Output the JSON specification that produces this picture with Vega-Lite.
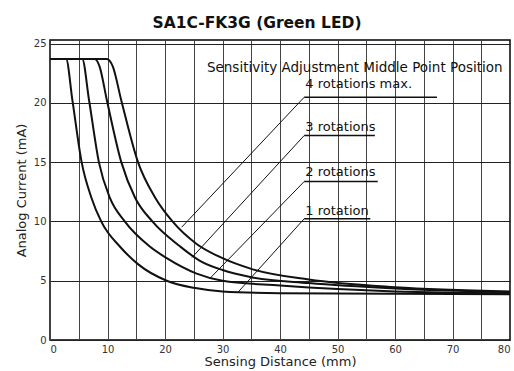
{
  "$schema": "https://vega.github.io/schema/vega-lite/v6.json",
  "width": 460,
  "height": 300,
  "autosize": "none",
  "padding": {"left": 50, "top": 40, "right": 4, "bottom": 31},
  "background": "white",
  "config": {
    "font": "DejaVu Sans",
    "view": {"stroke": "black", "strokeWidth": 1.5},
    "axis": {"labelColor": "#333", "labelFontSize": 10, "titleColor": "#222", "titleFontSize": 13, "titleFontWeight": "normal"}
  },
  "title": {"text": "SA1C-FK3G (Green LED)", "fontSize": 15.5, "fontWeight": "bold", "dx": -23, "offset": 7, "color": "#111"},
  "datasets": {
    "curves": [
      {"c": "1", "x": 0, "y": 23.7}, {"c": "1", "x": 2.8, "y": 23.7}, {"c": "1", "x": 3.9, "y": 20.2}, {"c": "1", "x": 5.5, "y": 15.0}, {"c": "1", "x": 7.2, "y": 12.0}, {"c": "1", "x": 8.9, "y": 10.0}, {"c": "1", "x": 12.3, "y": 7.8}, {"c": "1", "x": 15.3, "y": 6.4}, {"c": "1", "x": 20.3, "y": 5.0}, {"c": "1", "x": 25, "y": 4.4}, {"c": "1", "x": 30, "y": 4.1}, {"c": "1", "x": 40, "y": 3.95}, {"c": "1", "x": 60, "y": 3.9}, {"c": "1", "x": 80, "y": 3.85},
      {"c": "2", "x": 0, "y": 23.7}, {"c": "2", "x": 5.6, "y": 23.7}, {"c": "2", "x": 6.8, "y": 20.2}, {"c": "2", "x": 8.5, "y": 15.0}, {"c": "2", "x": 10.4, "y": 12.0}, {"c": "2", "x": 13.0, "y": 10.0}, {"c": "2", "x": 17.3, "y": 7.9}, {"c": "2", "x": 20.3, "y": 6.9}, {"c": "2", "x": 25.5, "y": 5.6}, {"c": "2", "x": 30, "y": 5.0}, {"c": "2", "x": 40, "y": 4.6}, {"c": "2", "x": 50, "y": 4.3}, {"c": "2", "x": 60, "y": 4.1}, {"c": "2", "x": 80, "y": 3.95},
      {"c": "3", "x": 0, "y": 23.7}, {"c": "3", "x": 7.8, "y": 23.7}, {"c": "3", "x": 8.6, "y": 23.1}, {"c": "3", "x": 9.9, "y": 20.2}, {"c": "3", "x": 12.4, "y": 15.0}, {"c": "3", "x": 14.8, "y": 12.0}, {"c": "3", "x": 17.8, "y": 10.0}, {"c": "3", "x": 22.6, "y": 7.9}, {"c": "3", "x": 26, "y": 6.7}, {"c": "3", "x": 30, "y": 5.9}, {"c": "3", "x": 35, "y": 5.3}, {"c": "3", "x": 45, "y": 4.8}, {"c": "3", "x": 60, "y": 4.35}, {"c": "3", "x": 80, "y": 4.05},
      {"c": "4", "x": 0, "y": 23.7}, {"c": "4", "x": 9.9, "y": 23.7}, {"c": "4", "x": 10.9, "y": 23.1}, {"c": "4", "x": 12.4, "y": 20.2}, {"c": "4", "x": 15.3, "y": 15.0}, {"c": "4", "x": 18.3, "y": 12.0}, {"c": "4", "x": 21.3, "y": 10.0}, {"c": "4", "x": 25.5, "y": 8.1}, {"c": "4", "x": 30, "y": 6.9}, {"c": "4", "x": 35, "y": 6.0}, {"c": "4", "x": 45, "y": 5.1}, {"c": "4", "x": 60, "y": 4.45}, {"c": "4", "x": 80, "y": 4.1}
    ],
    "underlines": [
      {"x": 44.2, "x2": 67.3, "y": 20.47},
      {"x": 44.2, "x2": 56.5, "y": 17.24},
      {"x": 44.2, "x2": 57.0, "y": 13.36},
      {"x": 44.2, "x2": 55.7, "y": 10.22}
    ],
    "leaders": [
      {"x": 44.2, "y": 20.47, "x2": 22.9, "y2": 9.51},
      {"x": 44.2, "y": 17.24, "x2": 24.7, "y2": 6.96},
      {"x": 44.2, "y": 13.36, "x2": 27.8, "y2": 5.19},
      {"x": 44.2, "y": 10.22, "x2": 32.7, "y2": 4.03}
    ],
    "labels": [
      {"t": "4 rotations max.", "x": 44.4, "y": 21.6},
      {"t": "3 rotations", "x": 44.4, "y": 17.94},
      {"t": "2 rotations", "x": 44.4, "y": 14.15},
      {"t": "1 rotation", "x": 44.4, "y": 10.92}
    ],
    "header": [
      {"t": "Sensitivity Adjustment Middle Point Position", "x": 53.0, "y": 22.9}
    ]
  },
  "encoding": {
    "x": {"field": "x", "type": "quantitative", "scale": {"domain": [0, 80], "nice": false}, "axis": {"grid": true, "gridColor": "#444", "gridWidth": 1, "gridOpacity": 1, "domain": false, "ticks": false, "values": [0,5,10,15,20,25,30,35,40,45,50,55,60,65,70,75,80], "labelExpr": "datum.value % 10 === 0 ? datum.label : ''", "labelOverlap": false, "title": "Sensing Distance (mm)", "labelPadding": 4, "titlePadding": 1}},
    "y": {"field": "y", "type": "quantitative", "scale": {"domain": [0, 25.3], "nice": false}, "axis": {"grid": true, "gridColor": "#222", "gridWidth": 1, "gridOpacity": 1, "domain": false, "ticks": false, "values": [0,5,10,15,20,25], "title": "Analog Current (mA)", "labelPadding": 4, "titlePadding": 5}}
  },
  "layer": [
    {
      "data": {"name": "curves"},
      "mark": {"type": "line", "color": "#111", "strokeWidth": 2, "interpolate": "monotone", "clip": true},
      "encoding": {"detail": {"field": "c"}}
    },
    {
      "data": {"name": "underlines"},
      "mark": {"type": "rule", "color": "#111", "strokeWidth": 1.5},
      "encoding": {"x2": {"field": "x2"}}
    },
    {
      "data": {"name": "leaders"},
      "mark": {"type": "rule", "color": "#111", "strokeWidth": 1},
      "encoding": {"x2": {"field": "x2"}, "y2": {"field": "y2"}}
    },
    {
      "data": {"name": "labels"},
      "mark": {"type": "text", "align": "left", "baseline": "middle", "fontSize": 13, "color": "#111"},
      "encoding": {"text": {"field": "t"}}
    },
    {
      "data": {"name": "header"},
      "mark": {"type": "text", "align": "center", "baseline": "middle", "fontSize": 13.5, "color": "#111"},
      "encoding": {"text": {"field": "t"}}
    }
  ]
}
